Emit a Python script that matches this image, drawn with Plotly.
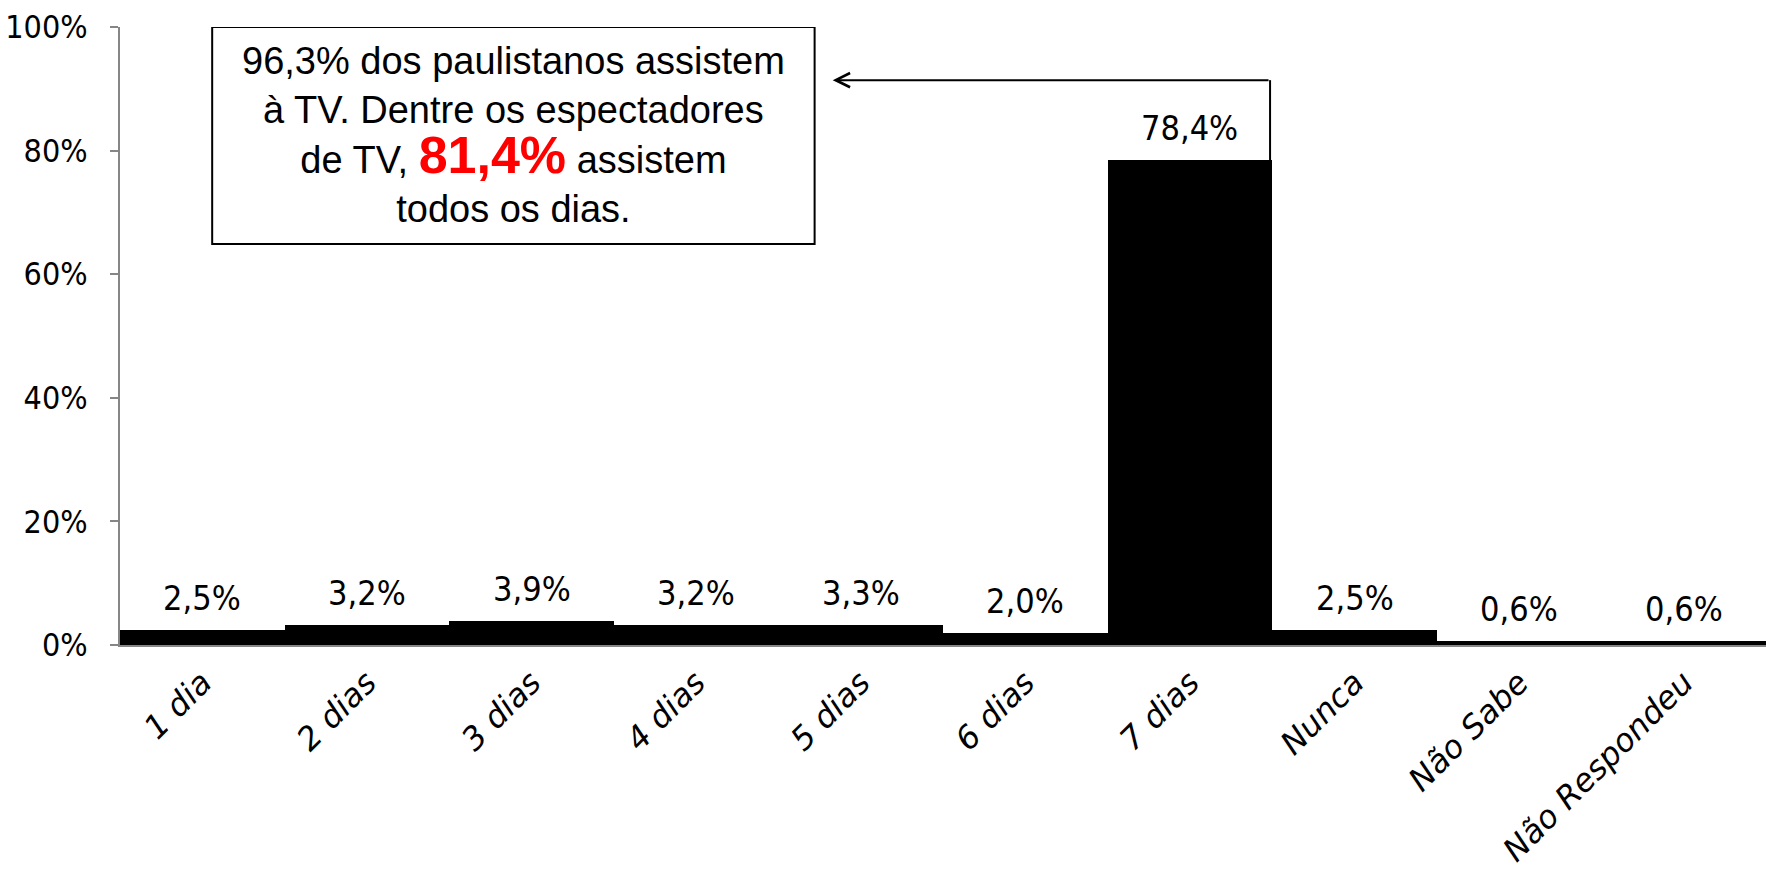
import plotly.graph_objects as go

categories = ["1 dia", "2 dias", "3 dias", "4 dias", "5 dias", "6 dias", "7 dias",
              "Nunca", "Não Sabe", "Não Respondeu"]
values = [2.5, 3.2, 3.9, 3.2, 3.3, 2.0, 78.4, 2.5, 0.6, 0.6]
value_labels = ["2,5%", "3,2%", "3,9%", "3,2%", "3,3%", "2,0%", "78,4%", "2,5%", "0,6%", "0,6%"]
y_ticks = [0, 20, 40, 60, 80, 100]
y_tick_labels = ["0%", "20%", "40%", "60%", "80%", "100%"]

callout_text = ("96,3% dos paulistanos assistem<br>à TV. Dentre os espectadores<br>"
                "de TV, <span style='color:#FF0000;font-size:52px'><b>81,4%</b></span> assistem<br>"
                "todos os dias.")

NARROW = "Liberation Sans Narrow, DejaVu Sans Condensed, Arial Narrow, sans-serif"

fig = go.Figure()
fig.add_trace(go.Bar(
    x=list(range(len(categories))),
    y=values,
    marker=dict(color="#000000", line=dict(width=0)),
    hoverinfo="skip",
))

# value labels above bars
for i, (v, lab) in enumerate(zip(values, value_labels)):
    fig.add_annotation(x=i, y=v, text=lab, showarrow=False, xref="x", yref="y",
                       yanchor="bottom", yshift=10,
                       font=dict(family=NARROW, size=34, color="#000000"))

# callout box
box_x0, box_x1, box_y0, box_y1 = 0.06, 3.72, 64.9, 100
fig.add_shape(type="rect", xref="x", yref="y", x0=box_x0, x1=box_x1, y0=box_y0, y1=box_y1,
              line=dict(color="#000000", width=2), fillcolor="rgba(0,0,0,0)", layer="above")
fig.add_annotation(x=(box_x0 + box_x1) / 2, y=(box_y0 + box_y1) / 2, xref="x", yref="y",
                   text=callout_text, showarrow=False, align="center",
                   xanchor="center", yanchor="middle",
                   font=dict(family="Liberation Sans, Arial, sans-serif", size=38, color="#000000"))

# connector: vertical line from top of "7 dias" bar, then arrow to the box
idx7 = categories.index("7 dias")
arrow_x = idx7 + 0.487
arrow_y = 91.4
fig.add_shape(type="line", xref="x", yref="y", x0=arrow_x, x1=arrow_x,
              y0=values[idx7], y1=arrow_y, line=dict(color="#000000", width=2))
fig.add_annotation(x=3.83, y=arrow_y, ax=arrow_x, ay=arrow_y, xref="x", yref="y",
                   axref="x", ayref="y", text="", showarrow=True,
                   arrowhead=5, arrowsize=1.4, arrowwidth=2, arrowcolor="#000000",
                   standoff=0, startstandoff=0)

fig.update_layout(
    width=1766, height=873,
    margin=dict(l=120, r=0, t=27, b=228),
    paper_bgcolor="#FFFFFF", plot_bgcolor="#FFFFFF",
    bargap=0,
    showlegend=False,
    xaxis=dict(
        range=[-0.5, len(categories) - 0.5],
        automargin=False,
        tickmode="array", tickvals=list(range(len(categories))), ticktext=categories,
        tickangle=-45, ticks="", showgrid=False, zeroline=False,
        showline=True, linecolor="#868686", linewidth=2,
        ticklabelstandoff=4,
        tickfont=dict(family="DejaVu Sans, sans-serif", size=32, color="#000000", style="italic"),
    ),
    yaxis=dict(
        range=[0, 100],
        automargin=False,
        tickmode="array", tickvals=y_ticks, ticktext=y_tick_labels,
        ticks="outside", ticklen=8, tickcolor="#868686", tickwidth=2,
        ticklabelstandoff=16,
        showgrid=False, zeroline=False,
        showline=True, linecolor="#868686", linewidth=2,
        tickfont=dict(family=NARROW, size=32, color="#000000"),
    ),
)

fig.write_html("out.html",
               config={"displayModeBar": False},
               post_script="document.body.style.margin='0';document.body.style.overflow='hidden';")
